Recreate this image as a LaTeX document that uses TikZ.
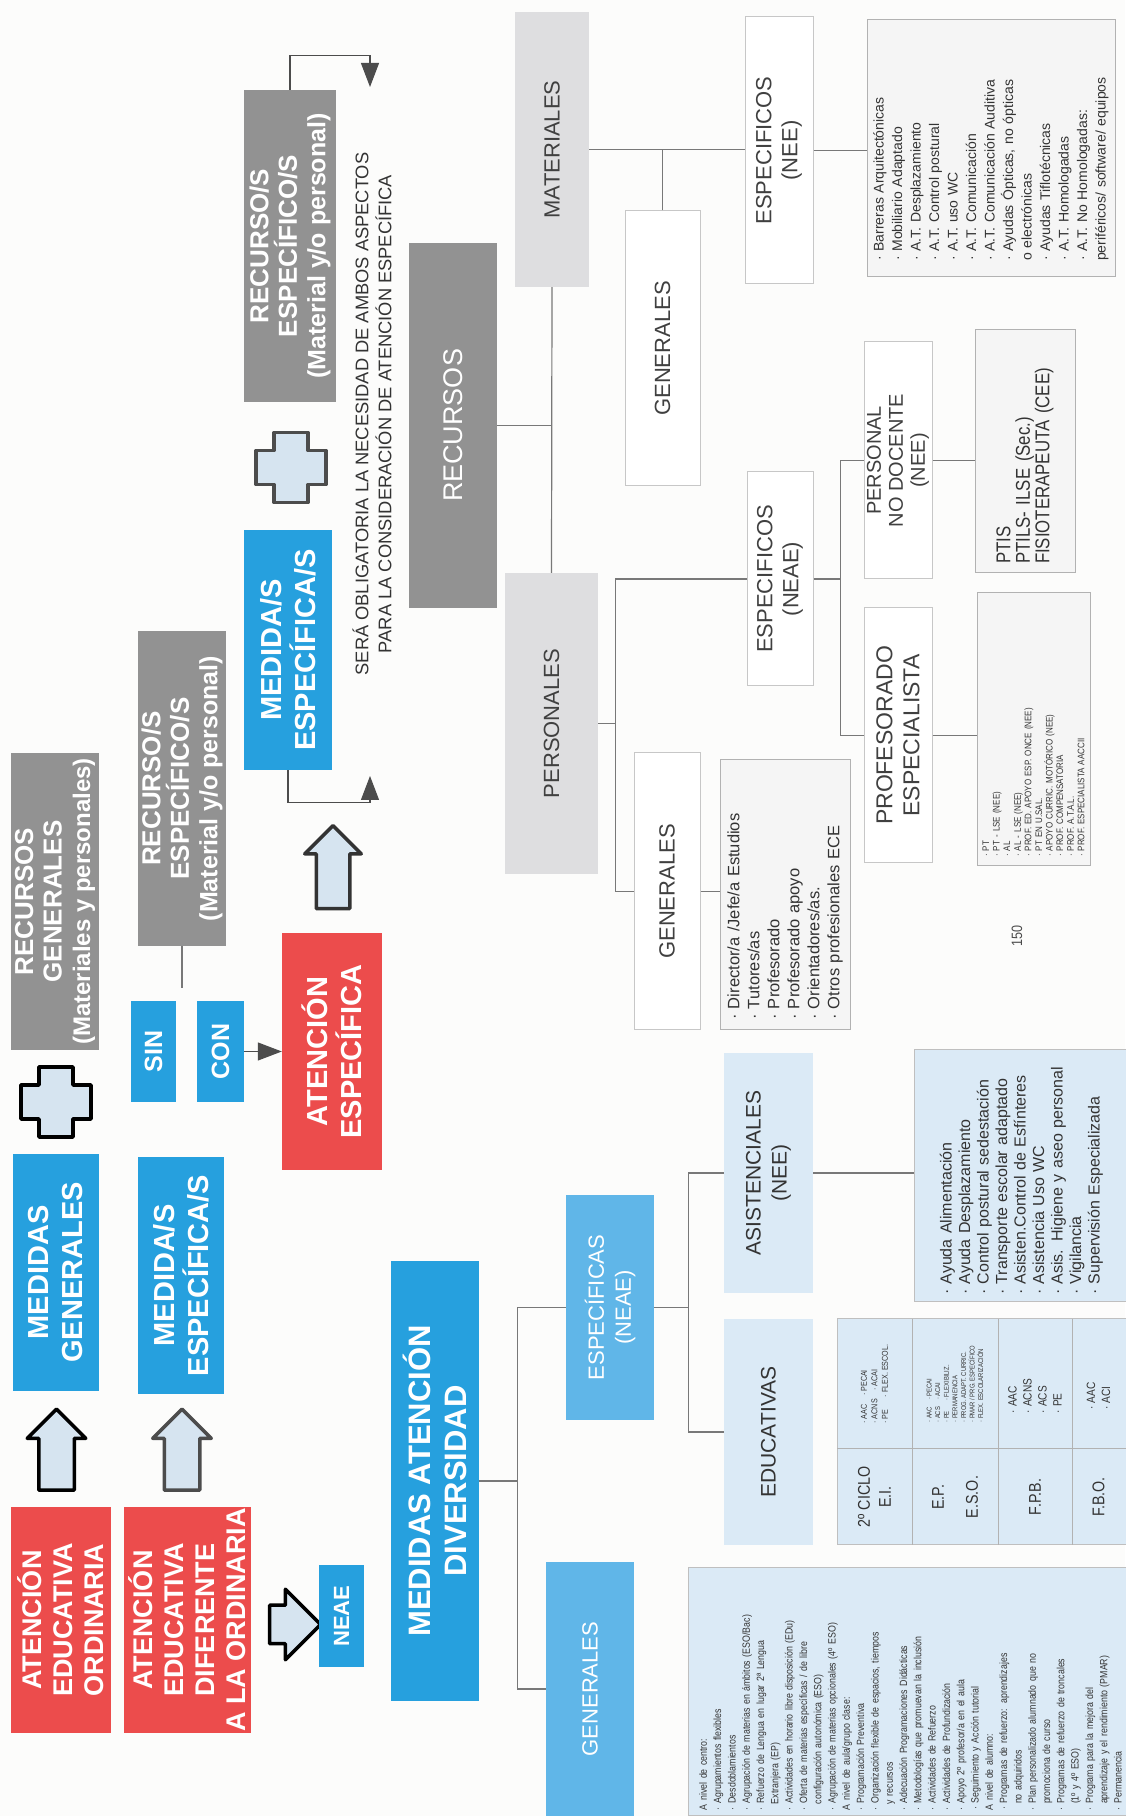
\documentclass[tikz,border=0pt]{standalone}
\usepackage{fontspec}
\setmainfont{Liberation Sans}
\newfontfamily\narrowfont[FakeStretch=0.84]{Liberation Sans}
\usetikzlibrary{positioning, shapes.arrows, arrows.meta}

\definecolor{attred}{RGB}{236,76,76}
\definecolor{attblue}{RGB}{38,160,222}
\definecolor{midblue}{RGB}{96,182,232}
\definecolor{paleblue}{RGB}{219,234,246}
\definecolor{recgray}{RGB}{146,146,146}
\definecolor{lightgray}{RGB}{222,222,224}
\definecolor{linegray}{RGB}{120,120,120}
\definecolor{arrowfill}{RGB}{214,228,240}
\definecolor{papercol}{RGB}{252,252,251}

\begin{document}
\begin{tikzpicture}[
    rotate=90, transform shape, x=1pt, y=1pt,
    box/.style={rectangle, inner sep=0pt, align=center},
    redbox/.style={box, fill=attred, text=white, font=\bfseries\fontsize{27}{31}\selectfont},
    bluebox/.style={box, fill=attblue, text=white, font=\bfseries\fontsize{29}{34}\selectfont},
    graybox/.style={box, fill=recgray, text=white, font=\bfseries\fontsize{26}{28.5}\selectfont},
    softblue/.style={box, fill=midblue, text=white, font=\fontsize{22}{27}\selectfont},
    palehead/.style={box, fill=paleblue, text=black!80, font=\fontsize{21}{26}\selectfont},
    greyhead/.style={box, fill=lightgray, text=black!75, font=\fontsize{22}{26}\selectfont},
    whitehead/.style={box, draw=black!22, line width=1pt, fill=white, text=black!75, font=\fontsize{22}{26}\selectfont},
    listbox/.style={rectangle, align=left, inner sep=0pt, text=black!80},
    palelist/.style={listbox, fill=paleblue, draw=black!25, line width=1pt},
    whitelist/.style={listbox, fill=black!4, draw=black!30, line width=1pt},
    hollow/.style={single arrow, draw=black, line width=3.5pt, fill=arrowfill, line join=round,
      inner xsep=0pt, inner ysep=16pt, minimum width=0pt, minimum height=81pt, single arrow head extend=11.5pt},
    link/.style={draw=linegray, line width=1.2pt},
    tip/.style={draw=black!70, line width=1.2pt, -{Triangle[length=24pt, width=18pt]}},
    plus sign/.pic={
      \draw[line width=3.5pt, fill=arrowfill, line join=round]
        (-17,-35) -- (17,-35) -- (17,-17) -- (35,-17) -- (35,17) -- (17,17)
        -- (17,35) -- (-17,35) -- (-17,17) -- (-35,17) -- (-35,-17) -- (-17,-17) -- cycle;
    }
]

\fill[papercol] (0,0) rectangle (1816,-1125);
\useasboundingbox (0,0) rectangle (1816,-1125);

% Attention row
\node[redbox, minimum width=226pt, minimum height=100pt] (at_ordinaria) at (196,-61) {ATENCIÓN\\EDUCATIVA\\ORDINARIA};
\node[redbox, minimum width=226pt, minimum height=127pt] (at_diferente) at (196,-187.5) {ATENCIÓN\\EDUCATIVA\\DIFERENTE\\A LA ORDINARIA};
\node[hollow] (at_arrow1) at (357.5,-56.5) {};
\node[hollow, draw=black!70] (at_arrow2) at (357.5,-182) {};
\node[bluebox, minimum width=237pt, minimum height=86pt] (at_medgen) at (543.5,-56) {MEDIDAS\\GENERALES};
\node[bluebox, minimum width=237pt, minimum height=86pt] (at_medesp) at (540.5,-181) {MEDIDA/S\\ESPECÍFICA/S};
\pic (at_plus1) at (714,-56) {plus sign};
\node[graybox, minimum width=297pt, minimum height=88pt] (at_recgen) at (914.5,-55) {RECURSOS\\GENERALES\\{\fontsize{24}{28.5}\selectfont(Materiales y personales)}};

\node[bluebox, font=\bfseries\fontsize{25}{28}\selectfont, minimum width=101pt, minimum height=45pt] (at_sin) at (764.5,-153.5) {SIN};
\node[bluebox, font=\bfseries\fontsize{25}{28}\selectfont, minimum width=101pt, minimum height=47pt] (at_con) at (764.5,-220.5) {CON};
\node[graybox, minimum width=315pt, minimum height=88pt] (at_recesp) at (1027.5,-182) {RECURSO/S\\ESPECÍFICO/S\\{\fontsize{25}{28.5}\selectfont(Material y/o personal)}};
\coordinate (at_sincon) at (828,-182);
\draw[link] (at_recesp.west) -- (at_sincon);

\node[redbox, font=\bfseries\fontsize{29}{34}\selectfont, minimum width=237pt, minimum height=100pt] (at_atesp) at (764.5,-332) {ATENCIÓN\\ESPECÍFICA};
\draw[tip] (at_con) -- (at_atesp);

\node[hollow, rotate=-90, minimum height=51pt, inner ysep=17.5pt, single arrow head extend=16pt] (at_arrow3) at (191.5,-285.5) {};
\node[bluebox, font=\bfseries\fontsize{22}{26}\selectfont, minimum width=102pt, minimum height=45pt] (at_neae) at (200,-341.5) {NEAE};

\node[hollow, draw=black!80, minimum height=83pt, inner ysep=15pt] (at_arrow4) at (940.5,-333) {};
\node[bluebox, minimum width=240pt, minimum height=88pt] (at_medesp2) at (1166,-288) {MEDIDA/S\\ESPECÍFICA/S};
\pic[draw=black!70] (at_plus2) at (1348.5,-291) {plus sign};
\node[graybox, minimum width=312pt, minimum height=92pt] (at_recesp2) at (1570,-290) {RECURSO/S\\ESPECÍFICO/S\\{\fontsize{25}{28.5}\selectfont(Material y/o personal)}};

\node[box, text=black!80, font=\fontsize{18.3}{23}\selectfont] (at_note) at (1402,-372) {SERÁ OBLIGATORIA LA NECESIDAD DE AMBOS ASPECTOS\\PARA LA CONSIDERACIÓN DE ATENCIÓN ESPECÍFICA};
\coordinate (at_notel) at (1040,-370);
\coordinate (at_noter) at (1729,-370);
\draw[tip] (at_medesp2.west) -- ++(-32,0) |- (at_notel);
\draw[tip] (at_recesp2.east) -- ++(34,0) |- (at_noter);

% Diversity measures
\node[bluebox, font=\bfseries\fontsize{31}{36}\selectfont, minimum width=440pt, minimum height=88pt] (dv_medidas) at (335,-435) {MEDIDAS ATENCIÓN\\DIVERSIDAD};
\node[softblue, minimum width=254pt, minimum height=88pt] (dv_generales) at (127,-590) {GENERALES};
\node[softblue, minimum width=225pt, minimum height=88pt] (dv_especificas) at (508.5,-610) {ESPECÍFICAS\\(NEAE)};
\draw[link] (dv_medidas.south) -- ++(0,-38) coordinate (dv_fork);
\draw[link] (dv_generales.north) |- (dv_fork) -| (dv_especificas.north);

\node[palelist, minimum width=248pt, minimum height=445pt, text width=236pt, font=\narrowfont\fontsize{10.5}{14.3}\selectfont] (dv_genlist) at (124,-910.5) {%
A nivel de centro:\\
· Agrupamientos flexibles\\
· Desdoblamientos\\
· Agrupación de materias en ámbitos (ESO/Bac)\\
· Refuerzo de Lengua en lugar 2ª Lengua\\
\hspace*{6pt}Extranjera (EP)\\
· Actividades en horario libre disposición (EDu)\\
· Oferta de materias específicas / de libre\\
\hspace*{6pt}configuración autonómica (ESO)\\
· Agrupación de materias opcionales (4º ESO)\\
A nivel de aula/grupo clase:\\
· Programación Preventiva\\
· Organización flexible de espacios, tiempos\\
\hspace*{6pt}y recursos\\
· Adecuación Programaciones Didácticas\\
· Metodologías que promuevan la inclusión\\
· Actividades de Refuerzo\\
· Actividades de Profundización\\
· Apoyo 2º profesor/a en el aula\\
· Seguimiento y Acción tutorial\\
A nivel de alumno:\\
· Programas de refuerzo: aprendizajes\\
\hspace*{6pt}no adquiridos\\
· Plan personalizado alumnado que no\\
\hspace*{6pt}promociona de curso\\
· Programas de refuerzo de troncales\\
\hspace*{6pt}(1º y 4º ESO)\\
· Programa para la mejora del\\
\hspace*{6pt}aprendizaje y el rendimiento (PMAR)\\
· Permanencia};

\node[palehead, minimum width=226pt, minimum height=89pt] (dv_educativas) at (384,-768.5) {EDUCATIVAS};
\node[palehead, minimum width=240pt, minimum height=89pt] (dv_asistenciales) at (643,-768.5) {ASISTENCIALES\\(NEE)};
\draw[link] (dv_especificas.south) -- ++(0,-34) coordinate (dv_fork2);
\draw[link] (dv_educativas.north) |- (dv_fork2) -| (dv_asistenciales.north);

% Table of educational measures
\node[palelist, minimum width=226pt, minimum height=292pt] (dv_table) at (384,-983) {};
\draw[draw=black!30, line width=1pt] (367,-837) -- (367,-1129);
\draw[draw=black!30, line width=1pt] (271,-912) -- (497,-912);
\draw[draw=black!30, line width=1pt] (271,-998) -- (497,-998);
\draw[draw=black!30, line width=1pt] (271,-1072) -- (497,-1072);
\node[box, text=black!80, font=\narrowfont\fontsize{17}{21}\selectfont] (dv_stage1) at (319,-874.5) {2º CICLO\\E.I.};
\node[box, text=black!80, font=\narrowfont\fontsize{17}{34}\selectfont] (dv_stage2) at (319,-955) {E.P.\\E.S.O.};
\node[box, text=black!80, font=\narrowfont\fontsize{17}{21}\selectfont] (dv_stage3) at (319,-1035) {F.P.B.};
\node[box, text=black!80, font=\narrowfont\fontsize{17}{21}\selectfont] (dv_stage4) at (319,-1098.5) {F.B.O.};
\node[listbox, font=\narrowfont\fontsize{8.5}{10.5}\selectfont] (dv_meas1) at (432,-874.5) {· AAC\quad · PECAI\\· ACNS\quad · ACAI\\· PE\quad\ \ · FLEX. ESCOL.};
\node[listbox, font=\narrowfont\fontsize{7}{8.6}\selectfont] (dv_meas2) at (432,-955) {· AAC\quad · PECAI\\· ACS\quad · ACAI\\· PE\quad\ \ · FLEXIBILIZ.\\· PERMANENCIA\\· PROG. ADAPT. CURRIC.\\· PMAR / PRG. ESPECÍFICO\\· FLEX. ESCOLARIZACIÓN};
\node[listbox, font=\narrowfont\fontsize{12}{15}\selectfont] (dv_meas3) at (420,-1035) {· AAC\\· ACNS\\· ACS\\· PE};
\node[listbox, font=\narrowfont\fontsize{12}{15}\selectfont] (dv_meas4) at (420,-1098.5) {· AAC\\· ACI};

\node[palelist, minimum width=252pt, minimum height=215pt, text width=238pt, font=\fontsize{16}{18.5}\selectfont] (dv_asislist) at (640,-1021.5) {%
· Ayuda Alimentación\\
· Ayuda Desplazamiento\\
· Control postural sedestación\\
· Transporte escolar adaptado\\
· Asisten.Control de Esfínteres\\
· Asistencia Uso WC\\
· Asis. Higiene y aseo personal\\
· Vigilancia\\
· Supervisión Especializada};
\draw[link] (dv_asistenciales.south) -- (dv_asistenciales.south |- dv_asislist.north);

\node[box, text=black!70, font=\narrowfont\fontsize{15}{18}\selectfont] (pg_number) at (880,-1017) {150};

% Resources
\node[graybox, font=\fontsize{27}{30}\selectfont, minimum width=365pt, minimum height=88pt] (rc_recursos) at (1390.5,-453) {RECURSOS};
\node[greyhead, minimum width=301pt, minimum height=93pt] (rc_personales) at (1092.5,-551.5) {PERSONALES};
\node[greyhead, minimum width=275pt, minimum height=74pt] (rc_materiales) at (1666.5,-552) {MATERIALES};
\draw[link] (rc_personales.east) -- (rc_materiales.west);
\draw[link] (rc_recursos.south) -- (rc_recursos.south |- rc_personales.east);

\node[whitehead, minimum width=275pt, minimum height=75pt] (rc_genmat) at (1467.5,-662.5) {GENERALES};
\node[whitehead, minimum width=267pt, minimum height=68pt] (rc_espnee) at (1665.5,-779) {ESPECIFICOS\\(NEE)};
\draw[link] (rc_materiales.south) -- (rc_materiales.south |- rc_espnee.north);
\draw[link] (rc_genmat.east) -- (rc_genmat.east -| rc_materiales.south);
\node[whitelist, minimum width=257pt, minimum height=248pt, text width=225pt, font=\fontsize{14}{18.5}\selectfont] (rc_matlist) at (1667.5,-991) {%
· Barreras Arquitectónicas\\
· Mobiliario Adaptado\\
· A.T. Desplazamiento\\
· A.T. Control postural\\
· A.T. uso WC\\
· A.T. Comunicación\\
· A.T. Comunicación Auditiva\\
· Ayudas Ópticas, no ópticas\\
o electrónicas\\
· Ayudas Tiflotécnicas\\
· A.T. Homologadas\\
· A.T. No Homologadas:\\
periféricos/ software/ equipos};
\draw[link] (rc_espnee.south) -- (rc_espnee.south |- rc_matlist.north);

\node[whitehead, minimum width=277pt, minimum height=66pt] (rc_genpers) at (924.5,-667) {GENERALES};
\node[whitehead, minimum width=214pt, minimum height=66pt] (rc_espneae) at (1237,-780) {ESPECIFICOS\\(NEAE)};
\draw[link] (rc_personales.south) -- ++(0,-17) coordinate (rc_fork);
\draw[link] (rc_genpers.north) |- (rc_fork) -| (rc_espneae.north);
\node[whitelist, minimum width=270pt, minimum height=130pt, text width=250pt, font=\fontsize{16.5}{20}\selectfont] (rc_perslist) at (921,-785) {%
· Director/a /Jefe/a Estudios\\
· Tutores/as\\
· Profesorado\\
· Profesorado apoyo\\
· Orientadores/as.\\
· Otros profesionales ECE};
\draw[link] (rc_genpers.south) -- (rc_genpers.south |- rc_perslist.north);

\node[whitehead, font=\fontsize{23}{27}\selectfont, minimum width=255pt, minimum height=68pt] (rc_profesp) at (1080.5,-898) {PROFESORADO\\ESPECIALISTA};
\node[whitehead, font=\fontsize{20}{22}\selectfont, minimum width=237pt, minimum height=68pt] (rc_pnodoc) at (1355.5,-898) {PERSONAL\\NO DOCENTE\\(NEE)};
\draw[link] (rc_espneae.south) -- ++(0,-27) coordinate (rc_fork2);
\draw[link] (rc_profesp.north) |- (rc_fork2) -| (rc_pnodoc.north);
\node[whitelist, minimum width=273pt, minimum height=113pt, text width=255pt, font=\narrowfont\fontsize{9.5}{10.6}\selectfont] (rc_proflist) at (1086.5,-1033.5) {%
· PT\\
· PT - LSE (NEE)\\
· AL\\
· AL - LSE (NEE)\\
· PROF. ED. APOYO ESP. ONCE (NEE)\\
· PT EN U.SAL.\\
· APOYO CURRIC. MOTÓRICO (NEE)\\
· PROF. COMPENSATORIA\\
· PROF. A.T.A.L.\\
· PROF. ESPECIALISTA AACCII};
\node[whitelist, minimum width=243pt, minimum height=100pt, text width=225pt, font=\narrowfont\fontsize{20}{19.5}\selectfont] (rc_ptis) at (1364.5,-1025) {%
PTIS\\
PTILS- ILSE (Sec.)\\
FISIOTERAPEUTA (CEE)};
\draw[link] (rc_profesp.south) -- (rc_profesp.south |- rc_proflist.north);
\draw[link] (rc_pnodoc.south) -- (rc_pnodoc.south |- rc_ptis.north);

\end{tikzpicture}
\end{document}
